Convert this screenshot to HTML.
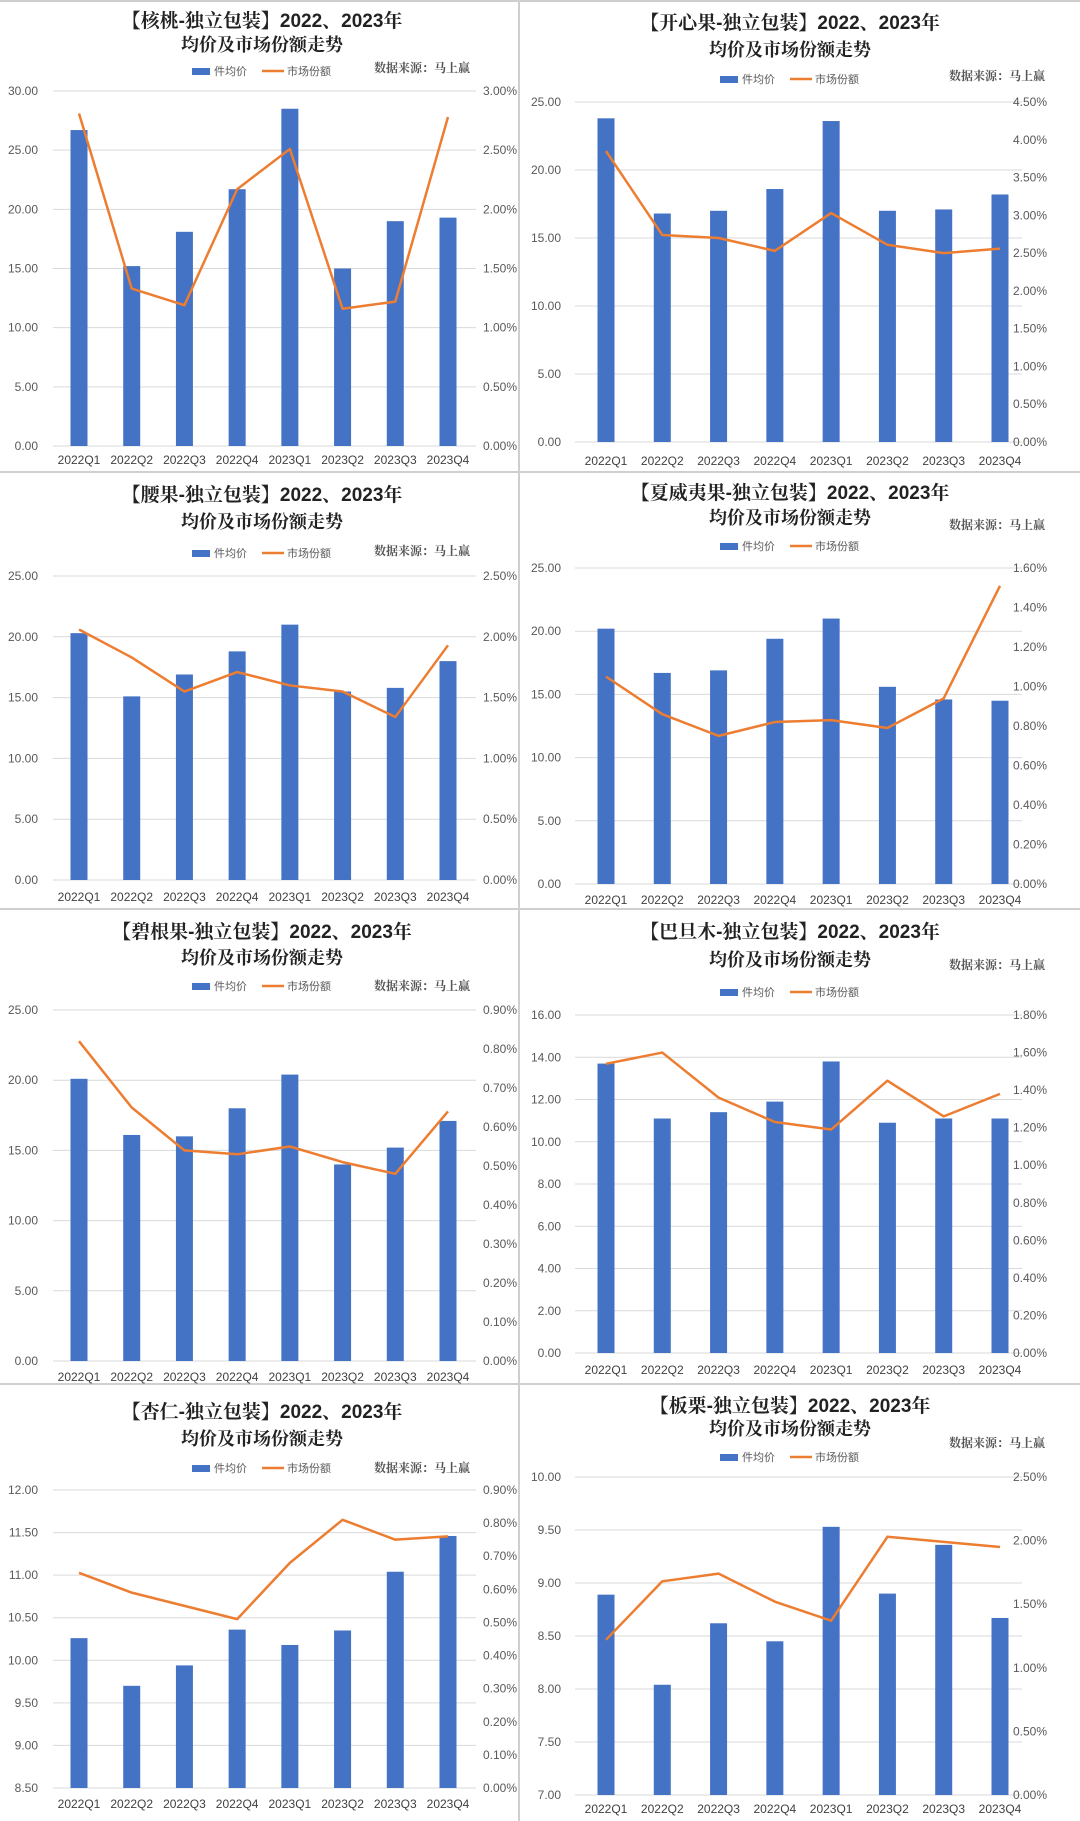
<!DOCTYPE html>
<html><head><meta charset="utf-8">
<style>
html,body{margin:0;padding:0;background:#fff;}
svg{display:block;font-family:"Liberation Sans","Noto Sans CJK SC",sans-serif;}
</style></head>
<body>
<svg id="chart" width="1080" height="1821" viewBox="0 0 1080 1821" xmlns="http://www.w3.org/2000/svg"></svg>
<script>
const categories = ["2022Q1","2022Q2","2022Q3","2022Q4","2023Q1","2023Q2","2023Q3","2023Q4"];
const walnutPrice = [26.7,15.2,18.1,21.7,28.5,15.0,19.0,19.3];
const walnutShare = [2.81,1.33,1.19,2.17,2.51,1.16,1.22,2.78];
const pistachioPrice = [23.8,16.8,17.0,18.6,23.6,17.0,17.1,18.2];
const pistachioShare = [3.85,2.74,2.70,2.53,3.03,2.61,2.50,2.56];
const cashewPrice = [20.3,15.1,16.9,18.8,21.0,15.5,15.8,18.0];
const cashewShare = [2.06,1.83,1.55,1.71,1.60,1.55,1.34,1.93];
const macadamiaPrice = [20.2,16.7,16.9,19.4,21.0,15.6,14.6,14.5];
const macadamiaShare = [1.05,0.86,0.75,0.82,0.83,0.79,0.94,1.51];
const pecanPrice = [20.1,16.1,16.0,18.0,20.4,14.0,15.2,17.1];
const pecanShare = [0.82,0.65,0.54,0.53,0.55,0.51,0.48,0.64];
const almondPrice = [13.7,11.1,11.4,11.9,13.8,10.9,11.1,11.1];
const almondShare = [1.54,1.60,1.36,1.23,1.19,1.45,1.26,1.38];
const apricotPrice = [10.26,9.70,9.94,10.36,10.18,10.35,11.04,11.46];
const apricotShare = [0.65,0.59,0.55,0.51,0.68,0.81,0.75,0.76];
const chestnutPrice = [8.89,8.04,8.62,8.45,9.53,8.90,9.36,8.67];
const chestnutShare = [1.22,1.68,1.74,1.52,1.37,2.03,1.99,1.95];
const titles = ["核桃","开心果","腰果","夏威夷果","碧根果","巴旦木","杏仁","板栗"];
const leftMin = [0,0,0,0,0,0,8.5,7];
const leftMax = [30,25,25,25,25,16,12,10];
const leftStep = [5,5,5,5,5,2,0.5,0.5];
const rightMax = [3,4.5,2.5,1.6,0.9,1.8,0.9,2.5];
const rightStep = [0.5,0.5,0.5,0.2,0.1,0.2,0.1,0.5];
const prices = [walnutPrice,pistachioPrice,cashewPrice,macadamiaPrice,pecanPrice,almondPrice,apricotPrice,chestnutPrice];
const shares = [walnutShare,pistachioShare,cashewShare,macadamiaShare,pecanShare,almondShare,apricotShare,chestnutShare];

// layout (not data)
const layout = [
 {top:91,bottom:446,t1:20,t2:44,leg:71,src:68,cat:459,left:true},
 {top:102,bottom:442,t1:22,t2:49,leg:79,src:76,cat:460,left:false},
 {top:576,bottom:880,t1:494,t2:521,leg:553,src:551,cat:896,left:true},
 {top:568,bottom:884,t1:492,t2:517,leg:546,src:525,cat:899,left:false},
 {top:1010,bottom:1361,t1:931,t2:957,leg:986,src:986,cat:1376,left:true},
 {top:1015,bottom:1353,t1:931,t2:959,leg:992,src:965,cat:1369,left:false},
 {top:1490,bottom:1788,t1:1411,t2:1438,leg:1468,src:1468,cat:1803,left:true},
 {top:1477,bottom:1795,t1:1405,t2:1428,leg:1457,src:1443,cat:1808,left:false}
];
const NS="http://www.w3.org/2000/svg";
const svg=document.getElementById('chart');
function mk(tag,attrs,parent){const e=document.createElementNS(NS,tag);for(const k in attrs)e.setAttribute(k,attrs[k]);(parent||svg).appendChild(e);return e;}
function txt(x,y,s,attrs,parent){const e=mk('text',Object.assign({x:x,y:y},attrs),parent);e.textContent=s;return e;}

// panel dividers
[[519,0,519,1821],[0,472,1080,472],[0,909,1080,909],[0,1384,1080,1384],[0,1,1080,1]].forEach(l=>{
 const d=mk('line',{x1:l[0],y1:l[1],x2:l[2],y2:l[3],stroke:'#cfcfcf','stroke-width':2});
 
 
});

for(let i=0;i<8;i++){
 const L=layout[i];
 const g=mk('g',{});
 
 
 const off=L.left?0:540;
 const px0=L.left?53:575, px1=L.left?476:1022;
 const bx0=L.left?79:606, bx1=L.left?448:1000;
 const cx=L.left?262:790;
 const leftLblX=L.left?38:561, rightLblX=L.left?500:1030;
 const yL=v=>L.bottom-(v-leftMin[i])/(leftMax[i]-leftMin[i])*(L.bottom-L.top);
 const yR=v=>L.bottom-v/rightMax[i]*(L.bottom-L.top);
 const xC=k=>bx0+k*(bx1-bx0)/(categories.length-1);
 // titles
 const t1=txt(cx,L.t1+7,'【'+titles[i]+'-独立包装】2022、2023年',{'text-anchor':'middle','font-size':19,'font-weight':'bold',fill:'#222','font-family':'"Liberation Sans","Noto Serif CJK SC",serif'},g);
 
 
 const t2=txt(cx,L.t2+7,'均价及市场份额走势',{'text-anchor':'middle','font-size':18,'font-weight':'bold',fill:'#222','font-family':'"Noto Serif CJK SC",serif'},g);
 
 
 const src=txt(L.left?470:1045,L.src+4,'数据来源：马上赢',{'text-anchor':'end','font-size':12,'font-weight':'bold',fill:'#555','font-family':'"Noto Serif CJK SC",serif'},g);
 
 
 // legend
 const lg=mk('g',{},g);
 
 
 const lx=cx-70;
 mk('rect',{x:lx,y:L.leg-3,width:18,height:7,fill:'#4472C4'},lg);
 txt(lx+22,L.leg+4,'件均价',{'font-size':11,fill:'#595959'},lg);
 mk('line',{x1:lx+70,y1:L.leg,x2:lx+92,y2:L.leg,stroke:'#ED7D31','stroke-width':2.5},lg);
 txt(lx+95,L.leg+4,'市场份额',{'font-size':11,fill:'#595959'},lg);
 // grid + ticks
 const n=Math.round((leftMax[i]-leftMin[i])/leftStep[i]);
 for(let k=0;k<=n;k++){
  const v=leftMin[i]+k*leftStep[i];const y=yL(v);
  const gl=mk('line',{x1:px0,y1:y,x2:px1,y2:y,stroke:'#d9d9d9','stroke-width':1},g);
  
  
  const tl=txt(leftLblX,y+4,v.toFixed(2),{'text-anchor':'end','font-size':12,fill:'#595959'},g);
  
  
 }
 const nr=Math.round(rightMax[i]/rightStep[i]);
 for(let k=0;k<=nr;k++){
  const v=k*rightStep[i];
  const tl=txt(rightLblX,yR(v)+4,v.toFixed(2)+'%',{'text-anchor':'middle','font-size':12,fill:'#595959'},g);
  
  
 }
 // bars
 prices[i].forEach((v,k)=>{
  const y=yL(v);
  const b=mk('rect',{x:xC(k)-8.5,y:y,width:17,height:L.bottom-y,fill:'#4472C4'},g);
  
  
 });
 categories.forEach((c,k)=>{
  const cl=txt(xC(k),L.cat+5,c,{'text-anchor':'middle','font-size':12,fill:'#404040'},g);
  
  
 });
 // line
 const pts=shares[i].map((v,k)=>xC(k)+','+yR(v)).join(' ');
 const pl=mk('polyline',{points:pts,fill:'none',stroke:'#ED7D31','stroke-width':2.5,'stroke-linejoin':'round'},g);
 
 
}
</script>
</body></html>
